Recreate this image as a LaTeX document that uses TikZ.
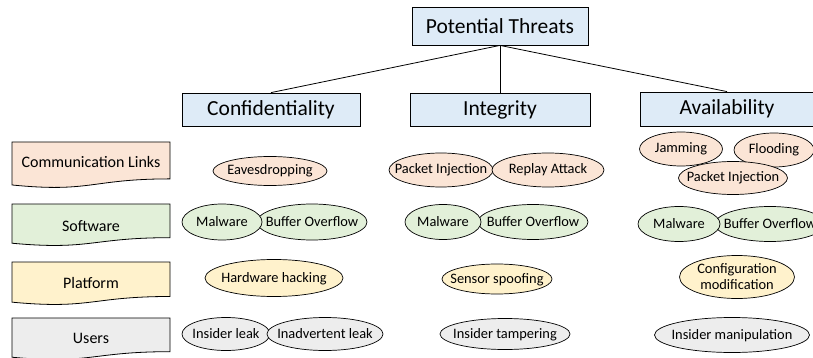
\documentclass[tikz,border=0pt]{standalone}
\usepackage{fontspec}
\setmainfont{Carlito}
\usetikzlibrary{shapes.geometric}

\definecolor{headblue}{HTML}{DEEBF7}
\definecolor{linkorange}{HTML}{FBE5D6}
\definecolor{softgreen}{HTML}{E2F0D9}
\definecolor{platyellow}{HTML}{FFF2CC}
\definecolor{usergray}{HTML}{EDEDED}

% document-style category box: name, top y, height, fill, text y, text
\newcommand{\catbox}[6]{%
  \draw[catline, fill=#4] (12,#2) -- (170,#2) -- (170,{#2+0.802*#3})
    .. controls (91,{#2+0.802*#3}) and (91,{#2+1.107*#3}) .. (12,{#2+0.934*#3}) -- cycle;
  \node[cattext] (#1) at (91,#5) {#6};
}
% threat ellipse of fixed size with its label on top:
% style, name, centre, width, height, text
\newcommand{\threat}[6]{%
  \node[#1, minimum width=#4pt, minimum height=#5pt] (#2) at #3 {};
  \node[threattext] (#2-txt) at (#2.center) {#6};
}

\begin{document}
\begin{tikzpicture}[x=1pt, y=-1pt,
  head/.style={draw, fill=headblue, line width=0.8pt, inner sep=0pt,
    font=\fontsize{21.5}{25}\selectfont},
  catline/.style={draw, line width=0.8pt},
  cattext/.style={inner sep=0pt, text height=10.5pt, text depth=2pt,
    font=\fontsize{16}{19}\selectfont},
  threat/.style={ellipse, draw, line width=0.7pt, inner sep=0pt},
  threattext/.style={inner sep=0pt, text height=10pt, text depth=2pt,
    font=\fontsize{14.4}{16}\selectfont},
  link/.style={threat, fill=linkorange},
  soft/.style={threat, fill=softgreen},
  plat/.style={threat, fill=platyellow},
  user/.style={threat, fill=usergray},
  tree/.style={line width=0.8pt}
]
\useasboundingbox (0,0) rectangle (813,358);
\clip (0,0) rectangle (813,358);

% root and the three security goals
\node[head, minimum width=176pt, minimum height=38pt] (root) at (500,26) {Potential Threats};
\node[head, minimum width=178pt, minimum height=33pt] (conf) at (271,109.5) {Confidentiality};
\node[head, minimum width=180pt, minimum height=33pt] (integ) at (500,109.5) {Integrity};
\node[head, minimum width=174pt, minimum height=34pt] (avail) at (727,109) {Availability};

\draw[tree] (root.south) -- (conf.north);
\draw[tree] (root.south) -- (integ.north);
\draw[tree] (root.south) -- (avail.north);

% categories
\catbox{comm}{142}{46}{linkorange}{163}{Communication Links}
\catbox{softw}{204}{42}{softgreen}{227}{Software}
\catbox{platf}{262}{43}{platyellow}{284}{Platform}
\catbox{users}{318}{42}{usergray}{339}{Users}

% confidentiality threats
\threat{link}{eaves}{(270,171)}{114}{29}{Eavesdropping}
\threat{soft}{bufC}{(312,222)}{110}{36}{Buffer Overflow}
\threat{soft}{malC}{(222,222)}{80}{36}{Malware}
\threat{plat}{hard}{(274,278)}{138}{37}{Hardware hacking}
\threat{user}{insC}{(226,334)}{88}{33}{Insider leak}
\threat{user}{inadC}{(325,334)}{116}{33}{Inadvertent leak}

% integrity threats
\threat{link}{pktI}{(441,170)}{104}{34}{Packet Injection}
\threat{link}{replay}{(548,170)}{112}{34}{Replay Attack}
\threat{soft}{bufI}{(533,222)}{110}{35}{Buffer Overflow}
\threat{soft}{malI}{(443,222)}{76}{35}{Malware}
\threat{plat}{sensor}{(497,279)}{110}{30}{Sensor spoofing}
\threat{user}{tamper}{(505,334)}{130}{31}{Insider tampering}

% availability threats
\threat{link}{jam}{(681,149)}{83}{34}{Jamming}
\threat{link}{flood}{(774,150)}{80}{34}{Flooding}
\threat{link}{pktA}{(733,178)}{109}{33}{Packet Injection}
\threat{soft}{bufA}{(770,224)}{110}{35}{Buffer Overflow}
\threat{soft}{malA}{(679,224)}{82}{35}{Malware}
\node[plat, minimum width=115pt, minimum height=43pt] (config) at (737,277) {};
\node[inner sep=0pt, align=center, font=\fontsize{14.4}{16}\selectfont]
  (config-txt) at (config.center) {Configuration\\modification};
\threat{user}{manip}{(732,335)}{155}{35}{Insider manipulation}
\end{tikzpicture}
\end{document}
